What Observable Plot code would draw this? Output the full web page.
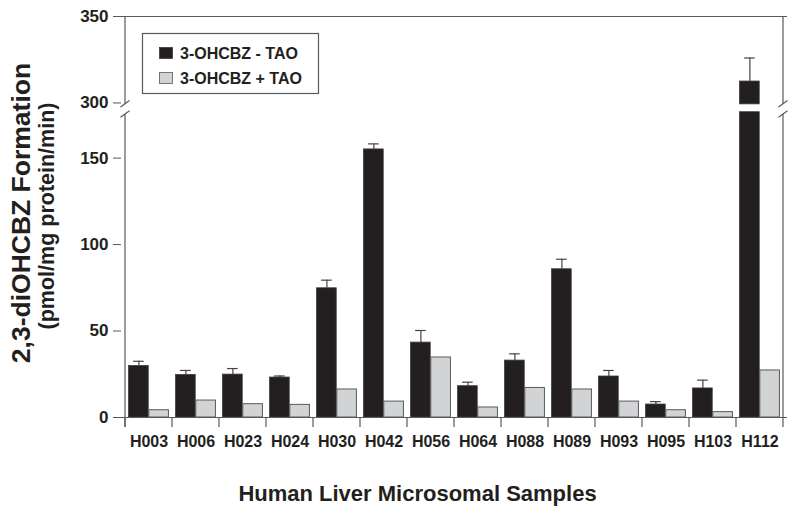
<!DOCTYPE html>
<html>
<head>
<meta charset="utf-8">
<script src="https://cdn.jsdelivr.net/npm/d3@7"></script>
<script src="https://cdn.jsdelivr.net/npm/@observablehq/plot@0.6"></script>
<style>
  html, body { margin: 0; padding: 0; background: #fff; }
  #chart { width: 800px; height: 509px; }
</style>
</head>
<body>
<div id="chart"></div>
<script>
// ---- data ----
const samples = ["H003","H006","H023","H024","H030","H042","H056","H064","H088","H089","H093","H095","H103","H112"];
const minusTAO = [29.8, 24.6, 24.8, 23.1, 74.7, 155.0, 43.3, 18.1, 32.9, 85.7, 23.7, 7.5, 16.8, 312.4];
const minusTAOerr = [2.7, 2.6, 3.5, 0.9, 4.7, 3.2, 7.0, 2.3, 3.9, 5.8, 3.5, 1.7, 4.8, 13.6];
const plusTAO = [4.2, 9.8, 7.7, 7.3, 16.2, 9.2, 34.7, 5.8, 17.1, 16.2, 9.2, 4.2, 3.1, 27.2];
const seriesNames = ["3-OHCBZ - TAO", "3-OHCBZ + TAO"];
const yTickValues = [0, 50, 100, 150, 300, 350];
const yTitle = "2,3-diOHCBZ Formation";
const yTitle2 = "(pmol/mg protein/min)";
const xTitle = "Human Liver Microsomal Samples";

// broken axis: lower segment 0..breakLow, upper segment breakHigh..350
const breakLow = 176.5, breakHigh = 299.2, upperShift = 118.15;
const m = v => v <= breakLow ? v : v - upperShift;

// ---- build tables ----
const blackSegs = [];
samples.forEach((s, i) => {
  const v = minusTAO[i];
  if (v > breakLow) {
    blackSegs.push({sample: s, y1: 0, y2: m(breakLow)});
    blackSegs.push({sample: s, y1: m(breakHigh), y2: m(v)});
  } else {
    blackSegs.push({sample: s, y1: 0, y2: m(v)});
  }
});
const greyRows = samples.map((s, i) => ({sample: s, y: m(plusTAO[i])}));
const errRows = samples.map((s, i) => ({sample: s, top: m(minusTAO[i]), err: m(minusTAO[i] + minusTAOerr[i])}));

const ink = "#231f20";
const axisCol = "#58595b";
const font = "'Liberation Sans', Arial, Helvetica, sans-serif";

const W = 800, H = 509, ML = 121, MR = 13, MT = 16, MB = 92;
const step = (W - ML - MR) / samples.length;

const plot = Plot.plot({
  width: W, height: H,
  marginLeft: ML, marginRight: MR, marginTop: MT, marginBottom: MB,
  style: {fontFamily: font, fontWeight: "bold", color: ink, background: "#fff"},
  x: {domain: samples, padding: 0, axis: null},
  y: {domain: [0, m(350)], axis: null},
  marks: [
    Plot.barY(blackSegs, {x: "sample", y1: "y1", y2: "y2", fill: ink, stroke: "#3a3a3a", strokeWidth: 0.8,
      insetLeft: step * 0.075, insetRight: step * 0.5}),
    Plot.barY(greyRows, {x: "sample", y: "y", fill: "#d1d3d4", stroke: axisCol, strokeWidth: 1,
      insetLeft: step * 0.5, insetRight: step * 0.075}),
    Plot.ruleX(errRows, {x: "sample", y1: "top", y2: "err", stroke: "#444", strokeWidth: 1.2, dx: -step * 0.2125}),
    Plot.tickY(errRows, {x: "sample", y: "err", stroke: "#444", strokeWidth: 1.2,
      insetLeft: step * 0.17, insetRight: step * 0.595}),
    Plot.axisY(yTickValues.map(m), {tickSize: 8, tickPadding: 5, fontSize: 17, fontWeight: "bold", fill: ink,
      stroke: axisCol, label: null, tickFormat: d => yTickValues[yTickValues.map(m).indexOf(d)]}),
    Plot.axisX({tickSize: 0, tickPadding: 18, fontSize: 16, fontWeight: "bold", fill: ink, label: null}),
    Plot.ruleY([0], {stroke: axisCol, strokeWidth: 1.2}),
    Plot.ruleY([m(350)], {stroke: axisCol, strokeWidth: 1.2}),
    Plot.text([yTitle], {frameAnchor: "left", textAnchor: "middle", lineAnchor: "middle", dx: -100, dy: -4,
      rotate: -90, fontSize: 26.5, fontWeight: "bold", fill: ink}),
    Plot.text([yTitle2], {frameAnchor: "left", textAnchor: "middle", lineAnchor: "middle", dx: -74, dy: -1,
      rotate: -90, fontSize: 21.5, fontWeight: "bold", fill: ink, letterSpacing: "0.6px"}),
    Plot.text([xTitle], {frameAnchor: "bottom", textAnchor: "middle", lineAnchor: "middle", dx: -37, dy: 76,
      fontSize: 22, fontWeight: "bold", fill: ink})
  ]
});

// ---- decorations positioned through the plot's scales ----
const svg = d3.select(plot);
const ys = plot.scale("y");
const xs = plot.scale("x");
const y0 = ys.apply(0), yTop = ys.apply(m(350));
const xL = xs.apply(samples[0]);
const xR = xs.apply(samples[samples.length - 1]) + xs.bandwidth;
const yLowSlash = ys.apply(175.2), yHighSlash = ys.apply(181.1);
const g = svg.append("g").attr("stroke", axisCol).attr("stroke-width", 1.2).attr("fill", "none");
[xL, xR].forEach(x => {
  g.append("line").attr("x1", x).attr("x2", x).attr("y1", y0 + 10).attr("y2", yLowSlash);
  g.append("line").attr("x1", x).attr("x2", x).attr("y1", yHighSlash).attr("y2", yTop);
  [yLowSlash, yHighSlash].forEach(yc => {
    g.append("line").attr("x1", x - 4.5).attr("x2", x + 4.5).attr("y1", yc + 3.2).attr("y2", yc - 3.2);
  });
});
// category boundary ticks
samples.forEach(s => {
  const x = xs.apply(s);
  g.append("line").attr("x1", x).attr("x2", x).attr("y1", y0).attr("y2", y0 + 10);
});

// legend
const lg = svg.append("g").attr("font-family", font).attr("font-weight", "bold").attr("font-size", 16)
  .attr("fill", ink).attr("text-anchor", "start");
lg.append("rect").attr("x", 142.5).attr("y", 33.5).attr("width", 176).attr("height", 60)
  .attr("fill", "#fff").attr("stroke", axisCol).attr("stroke-width", 1.2);
const swFill = [ink, "#d1d3d4"];
seriesNames.forEach((name, i) => {
  const yy = 47 + i * 25;
  lg.append("rect").attr("x", 159.5).attr("y", yy + 0.5).attr("width", 13).attr("height", 11)
    .attr("fill", swFill[i]).attr("stroke", i ? axisCol : "#3a3a3a").attr("stroke-width", 0.8);
  lg.append("text").attr("x", 180).attr("y", yy + 12).text(name);
});

document.getElementById("chart").appendChild(plot);
</script>
</body>
</html>
